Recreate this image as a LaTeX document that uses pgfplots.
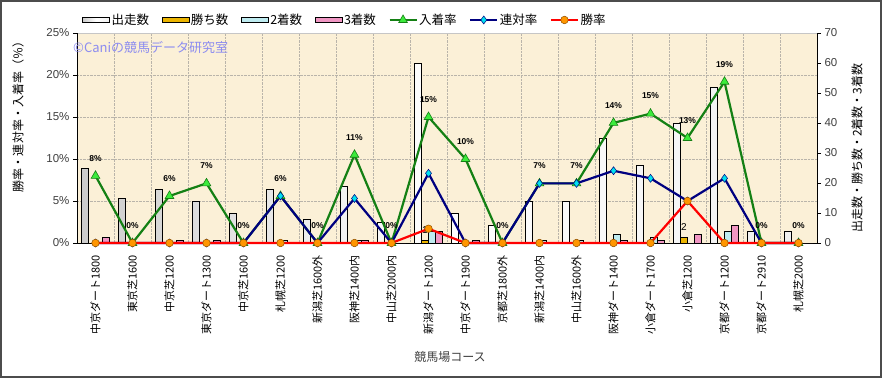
\documentclass[border=0pt]{standalone}
\usepackage{fontspec}
\setmainfont{Noto Sans CJK JP}
\newfontfamily\lab{Liberation Sans}
\usepackage{pgfplots}
\pgfplotsset{compat=1.18}
\usepackage{pgfplotstable}
\definecolor{bgc}{RGB}{251,240,215}
\definecolor{gline}{RGB}{20,128,20}
\definecolor{gmark}{RGB}{60,235,60}
\definecolor{nline}{RGB}{0,0,128}
\definecolor{cmark}{RGB}{0,225,240}
\definecolor{rline}{RGB}{255,0,0}
\definecolor{omark}{RGB}{255,150,0}
\definecolor{winc}{RGB}{235,180,0}
\definecolor{secc}{RGB}{190,235,240}
\definecolor{thrc}{RGB}{240,150,195}
\definecolor{tickc}{RGB}{64,64,64}
\definecolor{wmc}{RGB}{140,140,240}
\definecolor{gridc}{RGB}{185,180,170}

\pgfplotsset{
  barleg/.style={legend image code/.code={\draw[##1,/tikz/.cd] (0pt,-2.5pt) rectangle (27pt,2.5pt);}},
  lineleg/.style={legend image code/.code={\draw[mark repeat=2,mark phase=2,##1] plot coordinates {(0pt,0pt) (13.5pt,0pt) (27pt,0pt)};}},
}

\pgfplotstableread{
x N win sec thr place ren winr plbl
0 25 0 0 2 8.0 0 0 8
1 15 0 0 0 0 0 0 0
2 18 0 0 1 5.6 0 0 6
3 14 0 0 1 7.1 0 0 7
4 10 0 0 0 0 0 0 0
5 18 0 1 0 5.6 5.6 0 6
6 8 0 0 0 0 0 0 0
7 19 0 1 1 10.5 5.3 0 11
8 7 0 0 0 0 0 0 0
9 60 1 4 4 15.0 8.3 1.7 15
10 10 0 0 1 10.0 0 0 10
11 6 0 0 0 0 0 0 0
12 14 0 1 0 7.1 7.1 0 7
13 14 0 1 0 7.1 7.1 0 7
14 35 0 3 1 14.3 8.6 0 14
15 26 0 2 1 15.4 7.7 0 15
16 40 2 0 3 12.5 5.0 5.0 13
17 52 0 4 6 19.2 7.7 0 19
18 4 0 0 0 0 0 0 0
19 4 0 0 0 0 0 0 0
}\data

\begin{document}
\begin{tikzpicture}
\path[use as bounding box] (0pt,0pt) rectangle (882pt,378pt);
\fill[white] (0pt,0pt) rectangle (882pt,378pt);

\begin{axis}[
  at={(77pt,135pt)}, anchor=south west, scale only axis,
  width=740pt, height=210pt,
  xmin=-0.5, xmax=19.5, ymin=0, ymax=70,
  axis x line*=bottom, axis y line*=right,
  axis line style={black, line width=0.8pt},
  axis background/.style={fill=bgc},
  xtick={0,...,19},
  xticklabels={中京ダート1800,東京芝1600,中京芝1200,東京ダート1300,中京芝1600,札幌芝1200,新潟芝1600外,阪神芝1400内,中山芝2000内,新潟ダート1200,中京ダート1900,京都芝1800外,新潟芝1400内,中山芝1600外,阪神ダート1400,小倉ダート1700,小倉芝1200,京都ダート1200,京都ダート2910,札幌芝2000},
  x tick style={draw=none},
  xticklabel shift=7pt,
  x tick label style={rotate=90, anchor=east, font=\fontsize{11}{12}\selectfont, text=black, inner sep=1pt},
  minor xtick={0.5,1.5,...,18.5},
  minor tick length=0pt,
  xminorgrids,
  minor grid style={gridc, densely dotted, line width=0.5pt},
  ytick={0,10,...,70},
  tick align=outside, major tick length=4pt,
  y tick style={black, line width=0.6pt},
  y tick label style={font=\lab\fontsize{11.5}{12}\selectfont, text=tickc},
  /pgf/number format/assume math mode=true,
  extra y ticks={14,28,42,56},
  extra y tick labels={},
  extra y tick style={grid=major, major grid style={gridc, densely dotted, line width=0.5pt}, major tick length=0pt},
  ybar=0pt, bar width=7pt,
  clip=false,
]
\addplot[draw=black, line width=0.5pt, left color=gray!40, right color=gray!12, middle color=white] table[x=x,y=N]{\data};
\addplot[draw=black, line width=0.5pt, fill=winc,
  nodes near coords={\pgfmathfloatifflags{\pgfplotspointmeta}{0}{}{\pgfmathprintnumber{\pgfplotspointmeta}}},
  every node near coord/.append style={font=\lab\fontsize{10}{11}\selectfont, text=black, yshift=3pt}] table[x=x,y=win]{\data};
\addplot[draw=black, line width=0.5pt, fill=secc] table[x=x,y=sec]{\data};
\addplot[draw=black, line width=0.5pt, fill=thrc] table[x=x,y=thr]{\data};
\draw[gray!45, line width=0.8pt] (rel axis cs:0,1) -- (rel axis cs:1,1);
\end{axis}

\begin{axis}[
  at={(77pt,135pt)}, anchor=south west, scale only axis,
  width=740pt, height=210pt,
  xmin=-0.5, xmax=19.5, ymin=0, ymax=25,
  axis x line=none, axis y line*=left,
  axis line style={black, line width=0.8pt},
  ytick={0,5,...,25},
  /pgf/number format/assume math mode=true,
  yticklabel={\pgfmathprintnumber{\tick}\%},
  tick align=outside, major tick length=4pt,
  y tick style={black, line width=0.6pt},
  y tick label style={font=\lab\fontsize{11.5}{12}\selectfont, text=tickc},
  clip=false,
  legend columns=-1,
  legend style={draw=none, fill=none, at={(axis description cs:0.007,1.062)}, anchor=west, inner sep=0pt,
     font=\fontsize{12.5}{13}\selectfont,
     nodes={inner sep=1.5pt},
     /tikz/every even column/.append style={column sep=11pt}},
]
\addlegendimage{barleg, draw=black, line width=0.8pt, left color=gray!40, right color=gray!12, middle color=white}
\addlegendentry{出走数}
\addlegendimage{barleg, draw=black, line width=0.8pt, fill=winc}
\addlegendentry{勝ち数}
\addlegendimage{barleg, draw=black, line width=0.8pt, fill=secc}
\addlegendentry{2着数}
\addlegendimage{barleg, draw=black, line width=0.8pt, fill=thrc}
\addlegendentry{3着数}

\addplot[lineleg, gline, line width=2.2pt, mark=triangle*, mark size=5pt,
  mark options={fill=gmark, draw=gline, line width=0.6pt},
  point meta=explicit,
  nodes near coords={\pgfmathprintnumber[fixed,precision=0]{\pgfplotspointmeta}\%},
  every node near coord/.append style={font=\lab\bfseries\fontsize{8.5}{9}\selectfont, text=black, yshift=11pt}]
  table[x=x, y=place, meta=plbl]{\data};
\addlegendentry{入着率}
\addplot[lineleg, nline, line width=2.2pt, mark=diamond*, mark size=4pt,
  mark options={fill=cmark, draw=nline, line width=0.5pt}]
  table[x=x, y=ren]{\data};
\addlegendentry{連対率}
\addplot[lineleg, rline, line width=2.2pt, mark=*, mark size=3.8pt,
  mark options={fill=omark, draw={rgb,255:red,140;green,80;blue,0}, line width=0.5pt}]
  table[x=x, y=winr]{\data};
\addlegendentry{勝率}
\end{axis}

\node[anchor=west, text=wmc, font=\fontsize{13}{14}\selectfont, inner sep=0pt] at (73pt,330pt) {©Caniの競馬データ研究室};
\node[rotate=90, font=\fontsize{12}{13}\selectfont] at (18pt,264pt) {勝率・連対率・入着率（％）};
\node[rotate=90, font=\fontsize{12}{13}\selectfont] at (857pt,230pt) {出走数・勝ち数・2着数・3着数};
\node[font=\fontsize{12}{13}\selectfont, text=tickc] at (450pt,21pt) {競馬場コース};
\draw[line width=1.6pt, black!70] (0.8pt,0.8pt) rectangle (881.2pt,377.2pt);
\end{tikzpicture}
\end{document}
